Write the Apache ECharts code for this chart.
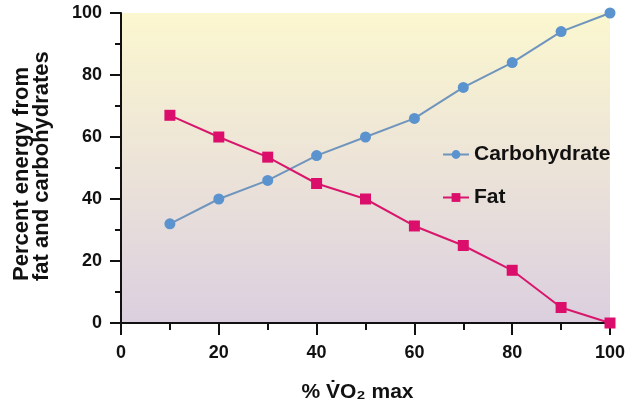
<!DOCTYPE html>
<html>
<head>
<meta charset="utf-8">
<script src="https://cdn.jsdelivr.net/npm/echarts@6/dist/echarts.min.js"></script>
<style>
html,body{margin:0;padding:0;background:#fff;}
#chart{width:640px;height:409px;}
</style>
</head>
<body>
<div id="chart"></div>
<script>
const vo2Percent = [10, 20, 30, 40, 50, 60, 70, 80, 90, 100];
const carbohydrate = [32, 40, 46, 54, 60, 66, 76, 84, 94, 100];
const fat = [67, 60, 53.5, 45, 40, 31.3, 25, 17, 5, 0];
const seriesNames = ['Carbohydrate', 'Fat'];
const xTitle = '% V\u0307O\u2082 max';
const yTitle = 'Percent energy from\nfat and carbohydrates';

const toPairs = (xs, ys) => xs.map((x, i) => [x, ys[i]]);
const font = '"Liberation Sans", Arial, Helvetica, sans-serif';
const chart = echarts.init(document.getElementById('chart'));
chart.setOption({
  animation: false,
  backgroundColor: '#ffffff',
  grid: {
    left: 121, top: 13, right: 30, bottom: 86,
    show: true,
    borderWidth: 0,
    backgroundColor: {
      type: 'linear', x: 0, y: 0, x2: 0, y2: 1,
      colorStops: [
        {offset: 0, color: '#fbf7cf'},
        {offset: 0.5, color: '#ece3d8'},
        {offset: 1, color: '#dbcfdf'}
      ]
    }
  },
  graphic: [{
    type: 'text',
    x: 32, y: 281,
    rotation: Math.PI / 2,
    style: {
      text: yTitle,
      fontFamily: font, fontWeight: 'bold', fontSize: 22, lineHeight: 20,
      fill: '#111', align: 'left', verticalAlign: 'middle'
    }
  }],
  legend: {
    orient: 'vertical',
    left: 437, top: 139,
    itemGap: 22,
    itemWidth: 26,
    itemHeight: 11,
    textStyle: {fontFamily: font, fontWeight: 'bold', fontSize: 21, color: '#111'},
    data: seriesNames
  },
  xAxis: {
    type: 'value', min: 0, max: 100, interval: 20,
    name: xTitle,
    nameLocation: 'middle', nameGap: 59,
    nameTextStyle: {fontFamily: font, fontWeight: 'bold', fontSize: 21, color: '#111', padding: [0, 16, 0, 0]},
    axisLine: {show: true, lineStyle: {color: '#111', width: 2}},
    axisTick: {show: true, length: 12, lineStyle: {color: '#111', width: 2}},
    minorTick: {show: true, splitNumber: 2, length: 7, lineStyle: {color: '#111', width: 2}},
    axisLabel: {fontFamily: font, fontWeight: 'bold', fontSize: 18, color: '#111', margin: 21},
    splitLine: {show: false}
  },
  yAxis: {
    type: 'value', min: 0, max: 100, interval: 20,
    axisLine: {show: true, lineStyle: {color: '#111', width: 2}},
    axisTick: {show: true, length: 11, lineStyle: {color: '#111', width: 2}},
    minorTick: {show: true, splitNumber: 2, length: 6, lineStyle: {color: '#111', width: 2}},
    axisLabel: {fontFamily: font, fontWeight: 'bold', fontSize: 18, color: '#111', margin: 19},
    splitLine: {show: false}
  },
  series: [
    {
      name: seriesNames[0], type: 'line',
      data: toPairs(vo2Percent, carbohydrate),
      symbol: 'circle', symbolSize: 11,
      lineStyle: {color: '#6f95bd', width: 2},
      itemStyle: {color: '#5b93cf'}
    },
    {
      name: seriesNames[1], type: 'line',
      data: toPairs(vo2Percent, fat),
      symbol: 'rect', symbolSize: 11,
      lineStyle: {color: '#d8176c', width: 2},
      itemStyle: {color: '#dc0e6c'}
    }
  ]
});
</script>
</body>
</html>
